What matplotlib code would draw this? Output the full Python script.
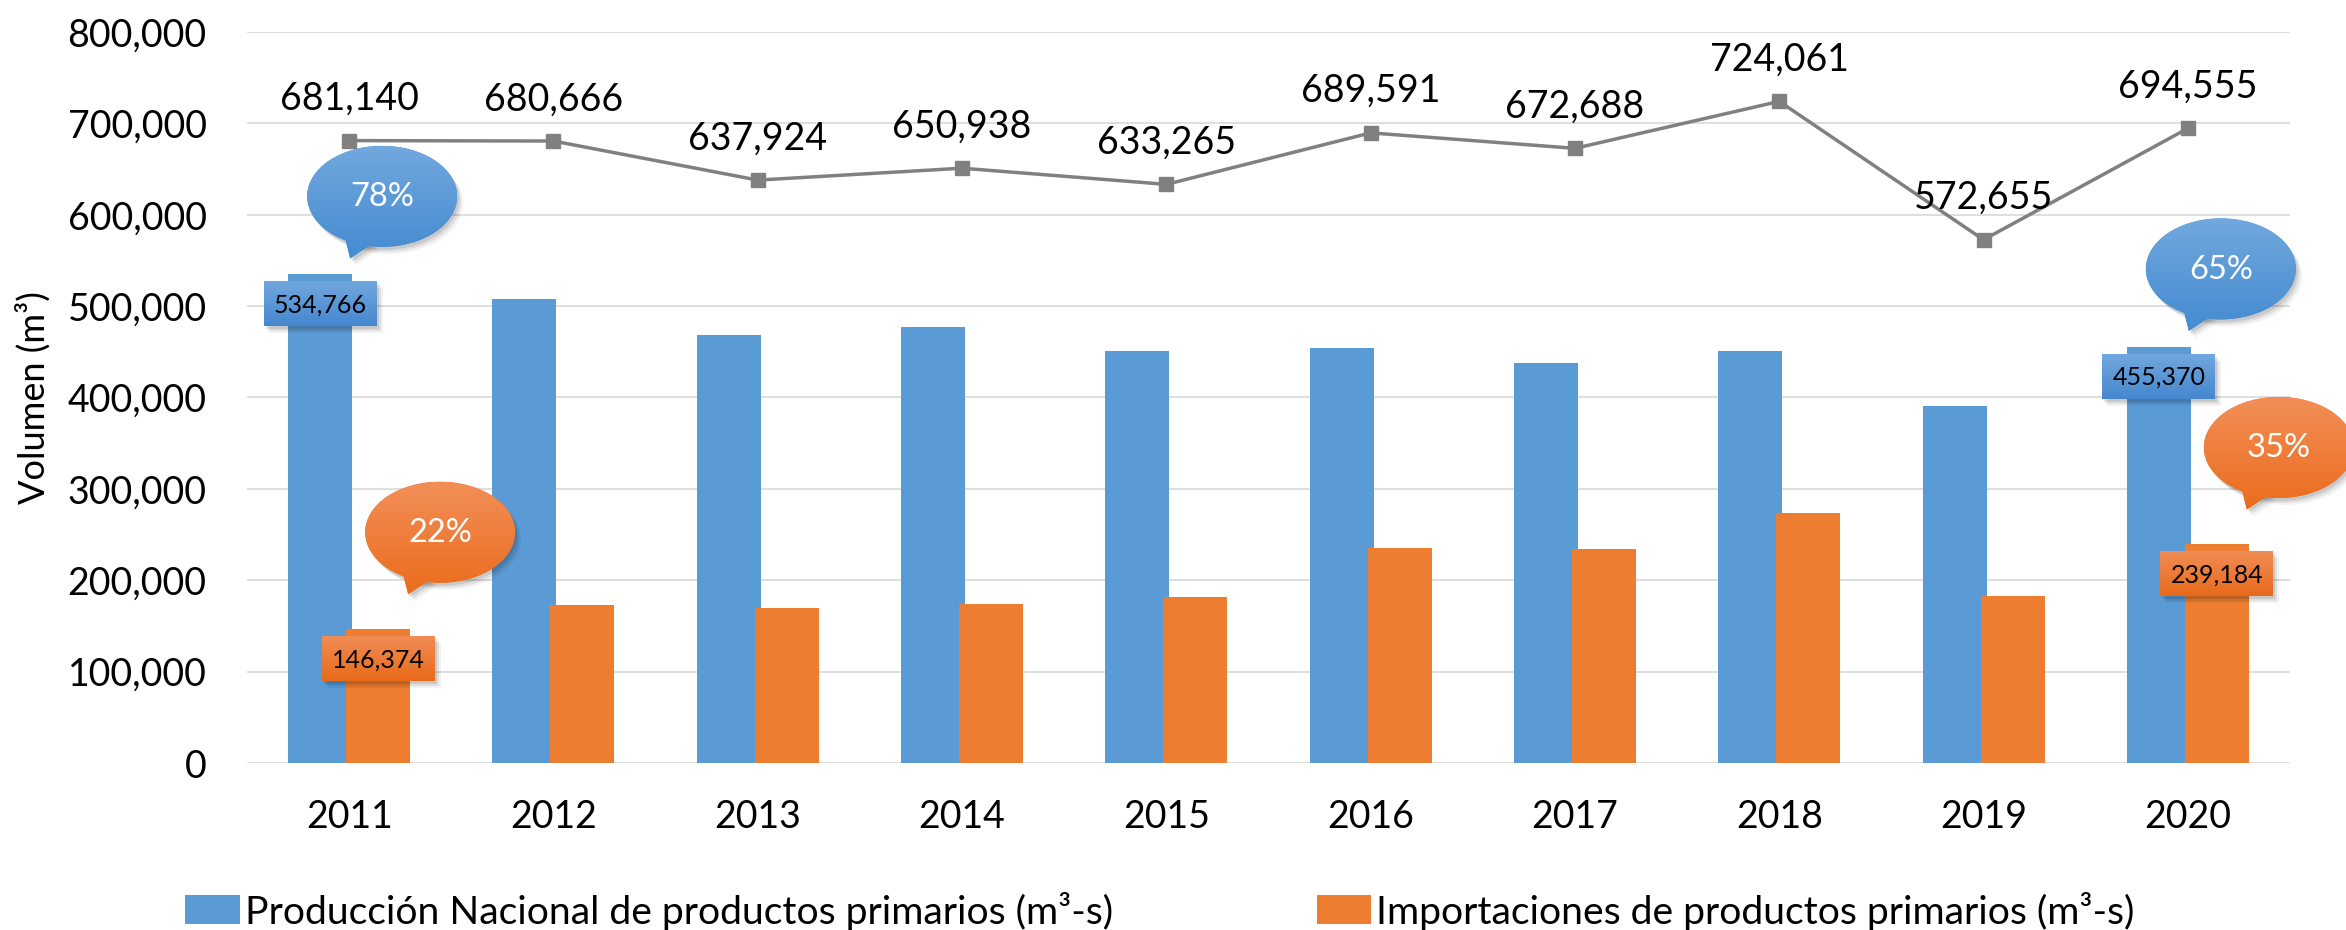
import numpy as np
import matplotlib.pyplot as plt
import matplotlib.colors as mcolors
from matplotlib.patches import Ellipse, Polygon, Rectangle, Patch
from matplotlib.ticker import FuncFormatter

plt.rcParams['font.family'] = ['Lato', 'DejaVu Sans']

# --- data ---
years = ['2011', '2012', '2013', '2014', '2015', '2016', '2017', '2018', '2019', '2020']
produccion = [534766, 508200, 468400, 477400, 451200, 454500, 438300, 450800, 390400, 455370]
importaciones = [146374, 172500, 169500, 173500, 182100, 235100, 234400, 273300, 182300, 239184]
totales = [681140, 680666, 637924, 650938, 633265, 689591, 672688, 724061, 572655, 694555]

# years that carry a value box and a share bubble
callout_years = ['2011', '2020']
prod_shares = ['78%', '65%']
imp_shares = ['22%', '35%']

BLUE = '#5B9BD5'
ORANGE = '#ED7D31'
GRAY = '#808080'
W, H = 2346, 930

fig = plt.figure(figsize=(W / 100, H / 100), dpi=100)
ax = fig.add_axes([247 / W, 1 - 763 / H, 2043 / W, 731 / H])

x = np.arange(len(years))
bw = 0.313
off = 0.142
ax.bar(x - off, produccion, bw, color=BLUE, zorder=2)
ax.bar(x + off, importaciones, bw, color=ORANGE, zorder=2)
ax.plot(x, totales, color=GRAY, lw=2.5, marker='s', markersize=9.5, zorder=3)

for i, v in enumerate(totales):
    ax.annotate(f'{v:,}', (i, v), xytext=(0, 30), textcoords='offset points',
                ha='center', va='center', fontsize=27, color='black', zorder=4)

ax.set_xlim(-0.5, len(years) - 0.5)
ax.set_ylim(0, 800000)
ax.set_yticks(np.arange(0, 800001, 100000))
ax.yaxis.set_major_formatter(FuncFormatter(lambda v, p: f'{v:,.0f}'))
ax.set_xticks(x)
ax.set_xticklabels(years)
ax.tick_params(axis='both', length=0, labelsize=27)
ax.tick_params(axis='y', pad=29)
ax.tick_params(axis='x', pad=26)
ax.grid(axis='y', color='#D9D9D9', lw=1.2, zorder=0)
ax.set_axisbelow(True)
for s in ax.spines.values():
    s.set_visible(False)
ax.set_ylabel('Volumen (m³)', fontsize=26)
ax.yaxis.set_label_coords(-0.096, 0.5)

fig.legend(handles=[Patch(facecolor=BLUE), Patch(facecolor=ORANGE)],
           labels=['Producción Nacional de productos primarios (m³-s)',
                   'Importaciones de productos primarios (m³-s)'],
           loc='center', bbox_to_anchor=(1160 / W, 1 - 911 / H), ncol=2,
           frameon=False, fontsize=28.2, handlelength=1.39, handleheight=0.75,
           handletextpad=0.13, columnspacing=5.2, borderpad=0)

# --- overlay in image pixels for boxes and bubbles ---
ov = fig.add_axes([0, 0, 1, 1], zorder=5)
ov.patch.set_alpha(0)
ov.axis('off')


def to_px(xv, yv):
    px, py = ax.transData.transform((xv, yv))
    return px, H - py


def gradient(patch, c_top, c_bot, x0, x1, y0, y1, z):
    t = np.linspace(0, 1, 128)[:, None, None]
    a = np.array(mcolors.to_rgb(c_top))
    b = np.array(mcolors.to_rgb(c_bot))
    img = a + (b - a) * t
    im = ov.imshow(img, extent=(x0, x1, y1, y0), aspect='auto', zorder=z,
                   interpolation='bilinear')
    im.set_clip_path(patch)


def shadow(make, z):
    for dx, dy, al in [(2, 3, 0.10), (4, 5, 0.08), (6, 7, 0.05)]:
        p = make(dx, dy)
        p.set_facecolor('black')
        p.set_alpha(al)
        p.set_edgecolor('none')
        p.set_zorder(z)
        ov.add_patch(p)


def value_box(cx, ytop, text, c_top, c_bot):
    bwid, bh = 113, 45
    shadow(lambda dx, dy: Rectangle((cx - bwid / 2 + dx, ytop + dy), bwid, bh), 6)
    r = Rectangle((cx - bwid / 2, ytop), bwid, bh, facecolor=c_bot, edgecolor='none', zorder=7)
    ov.add_patch(r)
    gradient(r, c_top, c_bot, cx - bwid / 2, cx + bwid / 2, ytop, ytop + bh, 7.5)
    ov.text(cx, ytop + bh / 2 + 1, text, ha='center', va='center', fontsize=18,
            color='black', zorder=8)


def bubble(cx, cy, text, c_top, c_bot):
    ew, eh = 150, 101

    def tail(dx=0, dy=0):
        return Polygon([(cx - 38 + dx, cy + 38 + dy), (cx - 32 + dx, cy + 62 + dy),
                        (cx - 8 + dx, cy + 46 + dy)], closed=True)

    shadow(lambda dx, dy: Ellipse((cx + dx, cy + dy), ew, eh), 9)
    shadow(lambda dx, dy: tail(dx, dy), 9)
    e = Ellipse((cx, cy), ew, eh, facecolor=c_bot, edgecolor='none', zorder=10)
    t = tail()
    t.set_facecolor(c_bot)
    t.set_edgecolor('none')
    t.set_zorder(10)
    ov.add_patch(e)
    ov.add_patch(t)
    gradient(e, c_top, c_bot, cx - ew / 2, cx + ew / 2, cy - eh / 2, cy + eh / 2 + 12, 10.5)
    gradient(t, c_top, c_bot, cx - ew / 2, cx + ew / 2, cy - eh / 2, cy + eh / 2 + 12, 10.5)
    ov.text(cx, cy + 1, text, ha='center', va='center', fontsize=23.5,
            color='white', zorder=11)


for k, yr in enumerate(callout_years):
    i = years.index(yr)
    bx, by = to_px(i - off, produccion[i])
    value_box(bx, by + 7, f'{produccion[i]:,}', '#72A7DE', '#4587CF')
    bubble(bx + 62, by - 78, prod_shares[k], '#72A8DE', '#438BD0')

    ox, oy = to_px(i + off, importaciones[i])
    value_box(ox, oy + 7, f'{importaciones[i]:,}', '#F18D55', '#E86A1A')
    bubble(ox + 62, oy - 97, imp_shares[k], '#F28F58', '#EB6C1C')

ov.set_xlim(0, W)
ov.set_ylim(H, 0)

fig.savefig('out.png', dpi=100)
